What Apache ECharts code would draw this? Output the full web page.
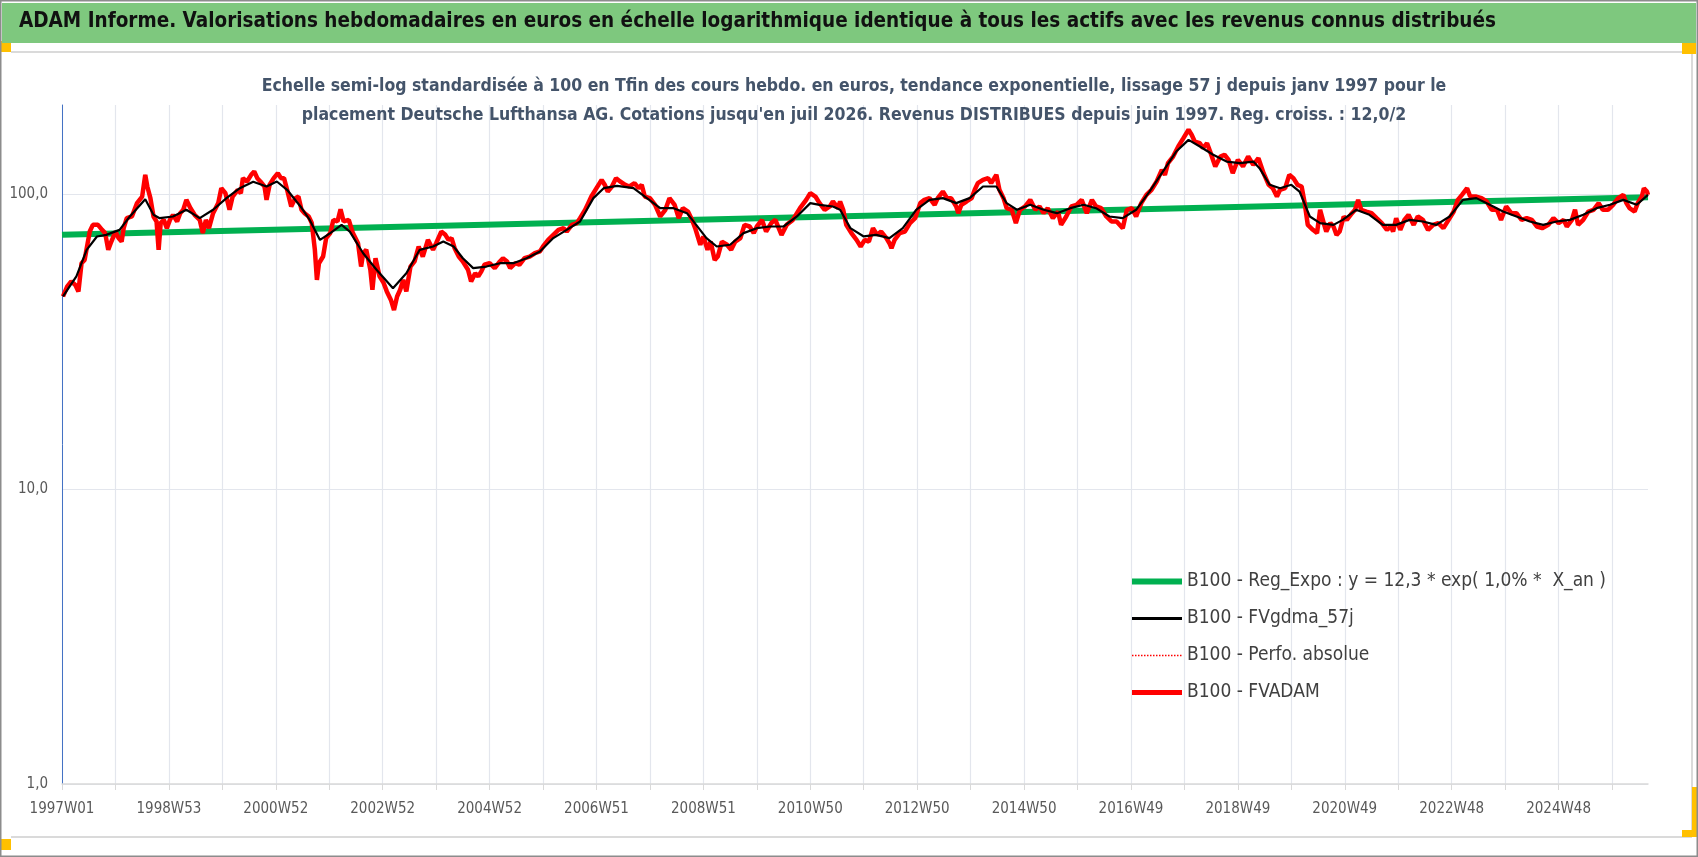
<!DOCTYPE html>
<html>
    <head>
        <meta charset="utf-8">
        <title>ADAM Informe - Deutsche Lufthansa AG</title>
        <script src="https://cdn.jsdelivr.net/npm/echarts@6.0.0/dist/echarts.min.js"></script>
        <style>
            html, body { margin: 0; padding: 0; background: #ffffff; }
            #chart1 { width: 1698px; height: 857px; }
        </style>
    </head>
    <body>
        <div id="chart1"></div>
        <script type="text/javascript">
            var FONT = "'Liberation Sans Narrow', 'DejaVu Sans Condensed', 'Noto Sans', sans-serif";

            // semaines ISO : annees a 53 semaines entre 1997 et 2026
            var firstYear = 1997;
            var lastYear = 2026;
            var longYears = [1998, 2004, 2009, 2015, 2020, 2026];
            var weekCount = 1544; // 1997W01 .. 2026W31

            var categories = [];
            for (var y = firstYear; y <= lastYear && categories.length < weekCount; y++) {
                var n = longYears.indexOf(y) >= 0 ? 53 : 52;
                for (var w = 1; w <= n && categories.length < weekCount; w++) {
                    categories.push(y + 'W' + (w < 10 ? '0' + w : w));
                }
            }

            // [indice de semaine, valeur base 100]
            var regExpo = [[0, 72.6], [1543, 97.4]];

            var fvgdma = [
                [1,44.9],[14,52.5],[24,64.6],[34,71.7],[43,72.6],[56,75.5],[66,83.8],[81,95.9],[89,84.9],[95,82.7],
                [108,83.8],[121,88.3],[134,82.7],[147,88.3],[160,96.7],[173,104.5],[186,109.9],[199,105.9],[209,110.1],[219,103.2],
                [232,90.6],[241,81.6],[251,69.8],[261,73.6],[272,78.5],[280,74.5],[293,62.9],[306,55.3],[322,47.9],[335,53.8],
                [348,64.6],[361,66.3],[371,68.9],[381,66.3],[390,60.5],[400,56],[413,56.7],[426,58.2],[439,58.2],[452,60.5],
                [465,63.8],[478,70.8],[491,75.5],[504,80.6],[517,96.7],[527,104.5],[540,106.4],[556,104.5],[569,96.7],[582,89.4],
                [595,89.4],[608,86],[617,78.5],[627,70.8],[637,66.3],[650,67.2],[663,73.6],[676,76.5],[689,77.5],[702,77.5],
                [715,83.8],[728,93],[737,91.8],[750,90.6],[757,88.3],[767,76.5],[780,71.7],[792,72.6],[805,70.8],[818,76.5],
                [831,88.3],[844,95.4],[857,96.7],[870,93],[883,96.7],[896,105.9],[909,105.9],[919,93],[929,88.3],[942,91.8],
                [955,88.3],[968,86],[981,89.4],[994,91.8],[1006,89.4],[1019,83.8],[1032,82.7],[1045,88.3],[1058,101.8],[1071,119],
                [1084,139.1],[1096,152.3],[1107,144.7],[1120,135.6],[1133,128.6],[1146,127],[1159,128.6],[1165,122.2],[1175,107.3],[1185,104.5],
                [1196,107.3],[1204,101.8],[1214,83.8],[1224,79.6],[1237,78.5],[1246,81.6],[1259,88.3],[1272,84.9],[1285,78.5],[1298,78.5],
                [1311,81.6],[1324,80.6],[1337,78.5],[1350,83.8],[1363,95.4],[1376,96.7],[1389,91.8],[1402,87.1],[1415,83.8],[1428,80.6],
                [1441,78.5],[1454,80.6],[1467,81.6],[1480,84.9],[1493,89.4],[1506,91.8],[1519,95.4],[1532,91.8],[1543,99.2]
            ];

            var fvadam = [
                [1,44.9],[5,48.5],[9,50.5],[13,49.1],[16,46.7],[19,58.2],[22,59.7],[27,74.5],[30,78.5],[35,78.5],
                [39,75.5],[42,73.6],[45,64.6],[48,68.9],[52,74.5],[55,70.8],[58,68.9],[60,76.5],[63,82.7],[68,83.8],
                [73,93],[78,97.9],[81,116],[83,105.9],[86,96.7],[89,83.8],[92,80.6],[94,64.6],[96,79.6],[99,81.6],
                [102,76.5],[105,81.6],[108,84.9],[112,80.6],[115,86],[118,88.3],[121,95.4],[125,89.4],[129,84.9],[134,81.6],
                [137,73.6],[140,81.6],[143,76.5],[147,86],[152,93],[155,104.5],[159,100.5],[163,88.3],[166,97.9],[171,103.2],
                [174,100.5],[176,113],[180,110.1],[184,116],[187,119],[190,113],[193,110.1],[197,105.9],[199,95.4],[202,107.3],
                [206,113],[210,117.5],[213,113],[216,113],[219,103.2],[223,90.6],[227,96.7],[230,97.9],[233,88.3],[236,86],
                [240,83.8],[243,79.6],[246,64.6],[248,51.1],[250,58.2],[254,61.3],[257,70.8],[261,73.6],[264,81.6],[268,80.6],
                [271,88.7],[274,80.6],[279,81.6],[283,73.6],[288,68],[291,56.7],[293,62.9],[296,64.6],[300,55.3],[302,47.3],
                [305,60.5],[309,52.5],[313,49.8],[316,46.7],[320,43.7],[323,40.4],[326,44.9],[329,47.3],[332,51.1],[335,46.7],
                [339,56.7],[343,59],[347,66.3],
                [351,61.3],[356,69.8],[361,64.6],[364,68],[369,74.5],[373,72.6],[376,69.8],[379,70.8],[382,65.4],[386,61.3],
                [390,59],[395,55.3],[398,50.5],[402,53.8],[405,52.5],[408,54.6],[411,57.5],[416,58.2],[421,56],[426,59],
                [429,60.5],[433,59],[436,56],[441,58.2],[445,57.5],[450,60.5],[455,61.3],[460,62.9],[465,63.8],[468,66.3],
                [473,69.8],[478,72.6],[483,75.5],[488,76.5],[491,74.5],[496,78.5],[501,79.6],[504,82.7],[509,88.3],[512,93],
                [515,97.9],[520,104.5],[525,111.5],[528,107.3],[531,101.8],[535,105.9],[539,113],[543,110.1],[548,107.3],[552,105.9],
                [557,108.7],[561,104.5],[564,107.3],[567,97.9],[572,96.7],[577,91.8],[582,83.8],[587,88.3],[591,96.7],[596,91.8],
                [600,82.7],[604,89.4],[609,87.1],[613,81.6],[616,76.5],[621,67.2],[624,71.7],[628,64.6],[631,68.9],[635,59.7],
                [638,61.3],[642,68.9],[647,67.2],[651,64.6],[655,68.9],[660,70.8],[664,78.5],[669,77.5],[673,73.6],[676,77.5],
                [681,81.6],[685,74.5],[690,79.6],[694,81.6],[700,72.6],[705,78.5],[711,81.6],[718,89.4],[724,95.4],[728,100.5],
                [733,97.9],[737,93],[742,88.3],[747,90.6],[750,94.2],[755,89.4],
                [757,94.2],[760,88.3],[763,78.5],[768,73.6],[773,69.8],[777,66.3],[781,69.8],[785,68.9],[789,76.5],[793,72.6],
                [797,74.5],[802,70.8],[805,68],[807,65.4],[810,69.8],[815,73.6],[820,74.5],[825,79.6],[830,82.7],[835,93],
                [839,95.4],[844,96.7],[849,91.8],[852,96.7],[857,101.8],[861,96.7],[865,96.7],[870,90.6],[872,86],[875,91.8],
                [880,94.2],[885,96.7],[888,103.2],[891,108.7],[896,111.5],[901,113],[904,108.7],[907,113],[909,116],[912,103.2],
                [916,96.7],[919,89.4],[924,88.3],[928,79.6],[932,88.3],[937,90.6],[942,95.4],[947,88.3],[951,90.6],[955,86],
                [959,89.4],[964,82.7],[969,87.1],[972,78.5],[977,83.8],[982,90.6],[987,91.8],[992,95.4],[997,86],[1002,95.4],
                [1006,90.6],[1011,89.4],[1016,83.8],[1021,80.6],[1026,80.6],[1032,76.5],[1036,88.3],[1041,89.4],[1045,83.8],[1050,93],
                [1055,99.2],[1060,103.2],[1065,110.1],[1070,120.6],[1073,116],[1076,127],[1081,133.8],[1086,144.7],[1091,154.4],[1096,164.9],
                [1099,158.6],[1102,150.4],[1107,148.5],[1110,142.8],[1114,148.5],[1117,139.1],[1122,123.8],[1127,133.8],[1131,135.6],[1135,130.4],
                [1139,117.5],[1144,130.4],[1149,123.8],[1154,133.8],[1159,125.4],[1164,132.1],
                [1169,117.5],[1174,107.3],[1178,104.5],[1182,97.9],[1185,103.2],[1190,104.5],[1194,116],[1198,113],[1202,107.3],[1206,105.9],
                [1209,93],[1212,78.5],[1217,75.5],[1221,73.6],[1224,88.3],[1228,78.5],[1230,74.5],[1234,79.6],[1237,77.5],[1240,72.6],
                [1243,74.5],[1247,83.8],[1250,81.6],[1255,86],[1258,88.3],[1261,95.4],[1264,88.3],[1269,87.1],[1274,86],[1279,82.7],
                [1284,79.6],[1289,75.5],[1293,77.5],[1295,74.5],[1298,82.7],[1302,75.5],[1306,81.6],[1310,84.9],[1315,78.5],[1319,83.8],
                [1324,81.6],[1329,75.5],[1334,78.5],[1339,79.6],[1344,76.5],[1349,81.6],[1354,87.1],[1358,95.4],[1362,99.2],[1367,104.5],
                [1370,97.9],[1376,97.9],[1381,96.7],[1386,94.2],[1391,88.3],[1396,88.3],[1400,81.6],[1405,90.6],[1410,86],[1415,86],
                [1420,81.6],[1425,82.7],[1430,81.6],[1435,77.5],[1440,76.5],[1446,78.5],[1451,82.7],[1456,79.6],[1461,81.6],[1464,77.5],
                [1469,81.6],[1472,88.3],[1475,78.5],[1480,81.6],[1485,87.1],[1490,88.3],[1495,93],[1499,88.3],[1504,88.3],[1509,91.8],
                [1514,96.7],[1519,99.2],[1522,93],[1525,89.4],[1530,87.1],[1533,93],[1537,97.9],[1539,104.5],[1542,101.8],[1543,99.2]
            ];

            var seriesNames = [
                'B100 - Reg_Expo : y = 12,3 * exp( 1,0% *  X_an )',
                'B100 - FVgdma_57j',
                'B100 - Perfo. absolue',
                'B100 - FVADAM'
            ];

            var header = 'ADAM Informe. Valorisations hebdomadaires en euros en échelle logarithmique identique à tous les actifs avec les revenus connus distribués';
            var subtitle = "Echelle semi-log standardisée à 100 en Tfin des cours hebdo. en euros, tendance exponentielle, lissage 57 j depuis janv 1997 pour le\n" +
                "placement Deutsche Lufthansa AG. Cotations jusqu'en juil 2026. Revenus DISTRIBUES depuis juin 1997. Reg. croiss. : 12,0/2";

            var myChart1 = echarts.init(document.getElementById('chart1'));

            myChart1.setOption({
                animation: false,
                backgroundColor: '#ffffff',
                textStyle: { fontFamily: FONT },
                title: {
                    text: subtitle,
                    left: 849,
                    top: 67,
                    textAlign: 'center',
                    textStyle: {
                        fontFamily: FONT,
                        fontSize: 17.5,
                        fontWeight: 'bold',
                        color: '#44546a',
                        lineHeight: 29
                    }
                },
                graphic: [
                    { type: 'rect', shape: { x: 0.75, y: 0.75, width: 1696.5, height: 855.5 }, style: { fill: null, stroke: '#8c8c8c', lineWidth: 1.5 }, z: 100 },
                    { type: 'rect', shape: { x: 2, y: 3, width: 1694, height: 40 }, style: { fill: '#7ec87e' }, z: 1 },
                    { type: 'text', left: 19, top: 11, style: { text: header, font: 'bold 20.5px ' + FONT, fill: '#111111' }, z: 2 },
                    { type: 'line', shape: { x1: 11, y1: 52, x2: 1692, y2: 52 }, style: { stroke: '#dadada', lineWidth: 2 } },
                    { type: 'line', shape: { x1: 1692, y1: 52, x2: 1692, y2: 836 }, style: { stroke: '#dadada', lineWidth: 2 } },
                    { type: 'line', shape: { x1: 11, y1: 837, x2: 1692, y2: 837 }, style: { stroke: '#dadada', lineWidth: 2 } },
                    { type: 'rect', shape: { x: 0, y: 41, width: 11, height: 11 }, style: { fill: '#ffc000' } },
                    { type: 'rect', shape: { x: 1682, y: 43, width: 14, height: 11 }, style: { fill: '#ffc000' } },
                    { type: 'rect', shape: { x: 1692, y: 787, width: 5, height: 50 }, style: { fill: '#ffc000' } },
                    { type: 'rect', shape: { x: 1682, y: 830, width: 14, height: 7 }, style: { fill: '#ffc000' } },
                    { type: 'rect', shape: { x: 0, y: 839, width: 11, height: 11 }, style: { fill: '#ffc000' } }
                ],
                legend: {
                    orient: 'vertical',
                    left: 1124,
                    top: 567,
                    itemWidth: 50,
                    itemHeight: 14,
                    itemGap: 18,
                    itemStyle: { color: 'rgba(0,0,0,0)', borderColor: 'rgba(0,0,0,0)', borderWidth: 0 },
                    textStyle: { fontFamily: FONT, fontSize: 19, color: '#404040' },
                    data: [
                        { name: seriesNames[0], lineStyle: { width: 6 } },
                        { name: seriesNames[1], lineStyle: { width: 3 } },
                        { name: seriesNames[2], lineStyle: { width: 1.5 } },
                        { name: seriesNames[3], lineStyle: { width: 5 } }
                    ]
                },
                grid: { left: 62, right: 50, top: 105, bottom: 73 },
                xAxis: {
                    type: 'category',
                    data: categories,
                    boundaryGap: false,
                    axisLine: { lineStyle: { color: '#d9d9d9', width: 1.5 } },
                    axisTick: { interval: 51, length: 6, lineStyle: { color: '#d9d9d9' } },
                    axisLabel: { interval: 103, color: '#595959', fontSize: 15, margin: 18, fontFamily: FONT },
                    splitLine: { show: true, interval: 51, lineStyle: { color: '#e3e6ed', width: 1.2 } }
                },
                yAxis: {
                    type: 'log',
                    logBase: 10,
                    min: 1,
                    max: 200,
                    axisLine: { show: true, lineStyle: { color: '#4472c4', width: 1 } },
                    axisTick: { show: false },
                    axisLabel: {
                        color: '#595959',
                        fontSize: 15,
                        margin: 14,
                        fontFamily: FONT,
                        showMaxLabel: false,
                        formatter: function (v) { return v.toFixed(1).replace('.', ','); }
                    },
                    splitLine: { show: true, showMaxLine: false, lineStyle: { color: '#e3e6ed', width: 1.2 } }
                },
                series: [
                    {
                        name: seriesNames[0],
                        type: 'line',
                        symbol: 'none',
                        z: 2,
                        data: regExpo,
                        lineStyle: { color: '#00b050', width: 6 },
                        itemStyle: { color: '#00b050' }
                    },
                    {
                        name: seriesNames[1],
                        type: 'line',
                        symbol: 'none',
                        z: 5,
                        data: fvgdma,
                        lineStyle: { color: '#000000', width: 2.2 },
                        itemStyle: { color: '#000000' }
                    },
                    {
                        name: seriesNames[2],
                        type: 'line',
                        symbol: 'none',
                        z: 3,
                        data: fvadam,
                        lineStyle: { color: '#ff0000', width: 1.5, type: 'dotted' },
                        itemStyle: { color: '#ff0000' }
                    },
                    {
                        name: seriesNames[3],
                        type: 'line',
                        symbol: 'none',
                        z: 4,
                        data: fvadam,
                        lineStyle: { color: '#ff0000', width: 4.5 },
                        itemStyle: { color: '#ff0000' }
                    }
                ]
            });
        </script>
    </body>
</html>
